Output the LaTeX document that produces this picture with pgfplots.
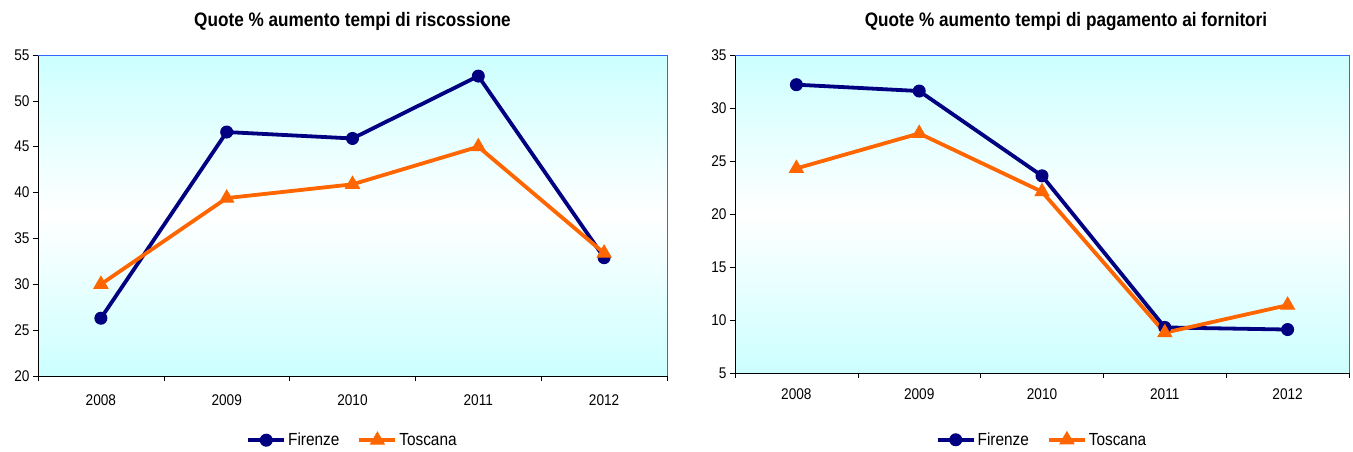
\documentclass[border=0pt]{standalone}
\usepackage{fontspec}
\setmainfont[FakeStretch=0.88]{Liberation Sans}
\usepackage{pgfplots}
\pgfplotsset{compat=1.18}

\definecolor{firenze}{RGB}{0,0,128}
\definecolor{toscana}{RGB}{255,102,0}
\definecolor{bgcyan}{RGB}{204,255,255}
\definecolor{frameblue}{RGB}{51,102,255}

\pgfplotsset{
  panel/.style={
    scale only axis,
    axis x line*=bottom, axis y line*=left,
    xmin=-0.5, xmax=4.5,
    xtick={-0.5,0.5,...,4.5},
    x tick label as interval,
    xticklabels={2008,2009,2010,2011,2012},
    tick align=outside,
    major tick length=5pt,
    tick style={black, line width=0.6pt},
    axis line style={black, line width=0.8pt},
    /pgf/number format/assume math mode=true,
    tick label style={font=\fontsize{15.5}{17}\selectfont},
    xticklabel style={yshift=-10pt},
    title style={font=\bfseries\fontsize{19.5}{21}\selectfont, at={(0.5,1)}, anchor=base, yshift=23pt},
    axis background/.style={shade, top color=bgcyan, bottom color=bgcyan, middle color=white},
    legend columns=2,
    legend style={draw=none, fill=none, font=\fontsize{17.5}{19}\selectfont, anchor=center,
      /tikz/every even column/.append style={column sep=16pt}},
    legend image code/.code={\draw[mark repeat=2, mark phase=2] plot coordinates {(0pt,0pt) (18pt,0pt) (36pt,0pt)};},
    after end axis/.code={\draw[frameblue, line width=0.8pt] (rel axis cs:0,1) -- (rel axis cs:1,1) -- (rel axis cs:1,0);},
    every axis plot/.append style={line width=3.8pt},
  },
  fir/.style={firenze, mark=*, mark size=6pt, mark options={solid, line width=1pt}},
  tos/.style={toscana, mark=triangle*, mark size=8pt, mark options={solid, line width=1pt}},
}

\begin{document}
\begin{tikzpicture}
\useasboundingbox (0,0) rectangle (1353pt,451pt);

% Collection times
\begin{axis}[panel, at={(38pt,75pt)}, anchor=south west,
  width=629pt, height=321pt,
  ymin=20, ymax=55, ytick={20,25,...,55},
  title={Quote \% aumento tempi di riscossione},
  legend style={at={(0.5,-0.2)}}]
\addplot[fir] coordinates {(0,26.3) (1,46.6) (2,45.9) (3,52.7) (4,32.9)};
\addplot[tos] coordinates {(0,30.0) (1,39.4) (2,40.9) (3,45.0) (4,33.4)};
\legend{Firenze, Toscana}
\end{axis}

% Supplier payment times
\begin{axis}[panel, at={(735pt,78pt)}, anchor=south west,
  width=614pt, height=318pt,
  ymin=5, ymax=35, ytick={5,10,...,35},
  title={Quote \% aumento tempi di pagamento ai fornitori},
  title style={xshift=24pt},
  xticklabel style={yshift=3pt},
  legend style={at={(0.5,-0.21)}}]
\addplot[fir] coordinates {(0,32.2) (1,31.6) (2,23.6) (3,9.3) (4,9.1)};
\addplot[tos] coordinates {(0,24.3) (1,27.6) (2,22.1) (3,8.8) (4,11.4)};
\legend{Firenze, Toscana}
\end{axis}
\end{tikzpicture}
\end{document}
